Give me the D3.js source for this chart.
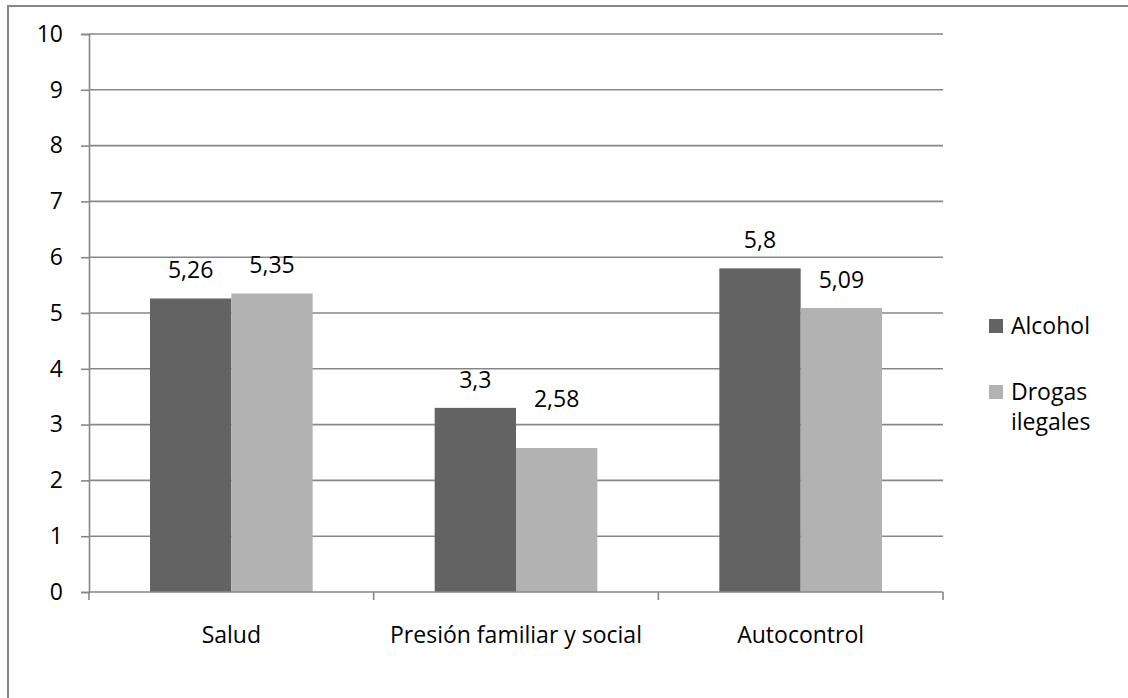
<!DOCTYPE html>
<html>
<head>
<meta charset="utf-8">
<script src="https://cdn.jsdelivr.net/npm/d3@7"></script>
<style>
  html, body { margin: 0; padding: 0; background: #fff; }
  svg { display: block; }
  text { font-family: "Open Sans", sans-serif; fill: #000; }
</style>
</head>
<body>
<svg id="chart" width="1128" height="698"></svg>
<script>
const categories = ["Salud", "Presión familiar y social", "Autocontrol"];
const seriesNames = ["Alcohol", "Drogas ilegales"];
const alcohol = [5.26, 3.3, 5.8];
const drogas = [5.35, 2.58, 5.09];
const yTicks = [0, 1, 2, 3, 4, 5, 6, 7, 8, 9, 10];
const legendLines = [["Alcohol"], ["Drogas", "ilegales"]];

const colors = ["#636363", "#b2b2b2"];
const gridColor = "#878787";
const fontSize = 23;
const fontFamily = "'Open Sans', sans-serif";

const svg = d3.select("#chart");
const W = 1128, H = 698;
const plot = { left: 89, right: 943, top: 34, bottom: 592 };

// outer frame (extends past the right/bottom edges like the reference)
svg.append("rect")
  .attr("x", 8).attr("y", 6)
  .attr("width", W + 20).attr("height", H + 20)
  .attr("fill", "#fff")
  .attr("stroke", gridColor).attr("stroke-width", 2);

const x0 = d3.scaleBand().domain(categories).range([plot.left, plot.right]).paddingInner(0).paddingOuter(0);
const groupPad = 0.75; // gap width 150% split on both sides
const x1 = d3.scaleBand().domain(seriesNames)
  .range([0, x0.bandwidth()])
  .paddingInner(0)
  .paddingOuter(groupPad);
const y = d3.scaleLinear().domain([0, 10]).range([plot.bottom, plot.top]);

// gridlines
svg.append("g")
  .selectAll("line")
  .data(yTicks.filter(t => t > 0))
  .join("line")
  .attr("x1", plot.left).attr("x2", plot.right)
  .attr("y1", d => y(d)).attr("y2", d => y(d))
  .attr("stroke", gridColor).attr("stroke-width", 1.6);

// y axis
const yAxis = d3.axisLeft(y).tickValues(yTicks).tickSize(8).tickPadding(18).tickFormat(d3.format("d"));
const gy = svg.append("g").attr("transform", `translate(${plot.left},0)`).call(yAxis);
gy.select(".domain").attr("stroke", gridColor).attr("stroke-width", 1.6);
gy.selectAll(".tick line").attr("stroke", gridColor).attr("stroke-width", 1.6);
gy.selectAll(".tick text").style("font-size", fontSize + "px").attr("fill", "#000")
  .style("font-family", fontFamily);

// bars
const rows = categories.map((c, i) => ({ category: c, values: [alcohol[i], drogas[i]] }));
const groups = svg.append("g").selectAll("g")
  .data(rows).join("g")
  .attr("transform", d => `translate(${x0(d.category)},0)`);

groups.selectAll("rect")
  .data(d => d.values.map((v, j) => ({ series: seriesNames[j], value: v, j })))
  .join("rect")
  .attr("x", d => x1(d.series))
  .attr("width", x1.bandwidth())
  .attr("y", d => y(d.value))
  .attr("height", d => y(0) - y(d.value))
  .attr("fill", d => colors[d.j]);

// value labels
const fmt = v => String(v).replace(".", ",");
const labelGap = (cat, s) => (cat === "Presión familiar y social" && s === "Drogas ilegales") ? 41 : 20;
groups.selectAll("text.val")
  .data(d => d.values.map((v, j) => ({ series: seriesNames[j], value: v, cat: d.category })))
  .join("text")
  .attr("class", "val")
  .attr("x", d => x1(d.series) + x1.bandwidth() / 2)
  .attr("y", d => y(d.value) - labelGap(d.cat, d.series))
  .attr("text-anchor", "middle")
  .style("font-size", fontSize + "px")
  .text(d => fmt(d.value));

// x axis
const xEdge = d3.scaleLinear().domain([0, categories.length]).range([plot.left, plot.right]);
const xAxis = svg.append("g");
xAxis.append("line")
  .attr("x1", plot.left).attr("x2", plot.right)
  .attr("y1", y(0)).attr("y2", y(0))
  .attr("stroke", gridColor).attr("stroke-width", 1.6);
xAxis.selectAll("line.tk")
  .data(d3.range(categories.length + 1))
  .join("line").attr("class", "tk")
  .attr("x1", d => xEdge(d)).attr("x2", d => xEdge(d))
  .attr("y1", y(0)).attr("y2", y(0) + 8)
  .attr("stroke", gridColor).attr("stroke-width", 1.6);
xAxis.selectAll("text")
  .data(categories)
  .join("text")
  .attr("x", d => x0(d) + x0.bandwidth() / 2)
  .attr("y", 643)
  .attr("text-anchor", "middle")
  .style("font-size", fontSize + "px")
  .text(d => d);

// legend
const legend = svg.append("g").attr("transform", "translate(989,319)");
const li = legend.selectAll("g").data(seriesNames).join("g")
  .attr("transform", (d, i) => `translate(0,${i * 66})`);
li.append("rect").attr("width", 14).attr("height", 14).attr("fill", (d, i) => colors[i]);
li.append("text")
  .attr("x", 22).attr("y", 15)
  .style("font-size", fontSize + "px")
  .selectAll("tspan")
  .data((d, i) => legendLines[i])
  .join("tspan")
  .attr("x", 22)
  .attr("dy", (d, k) => k === 0 ? 0 : 30)
  .text(d => d);
</script>
</body>
</html>
